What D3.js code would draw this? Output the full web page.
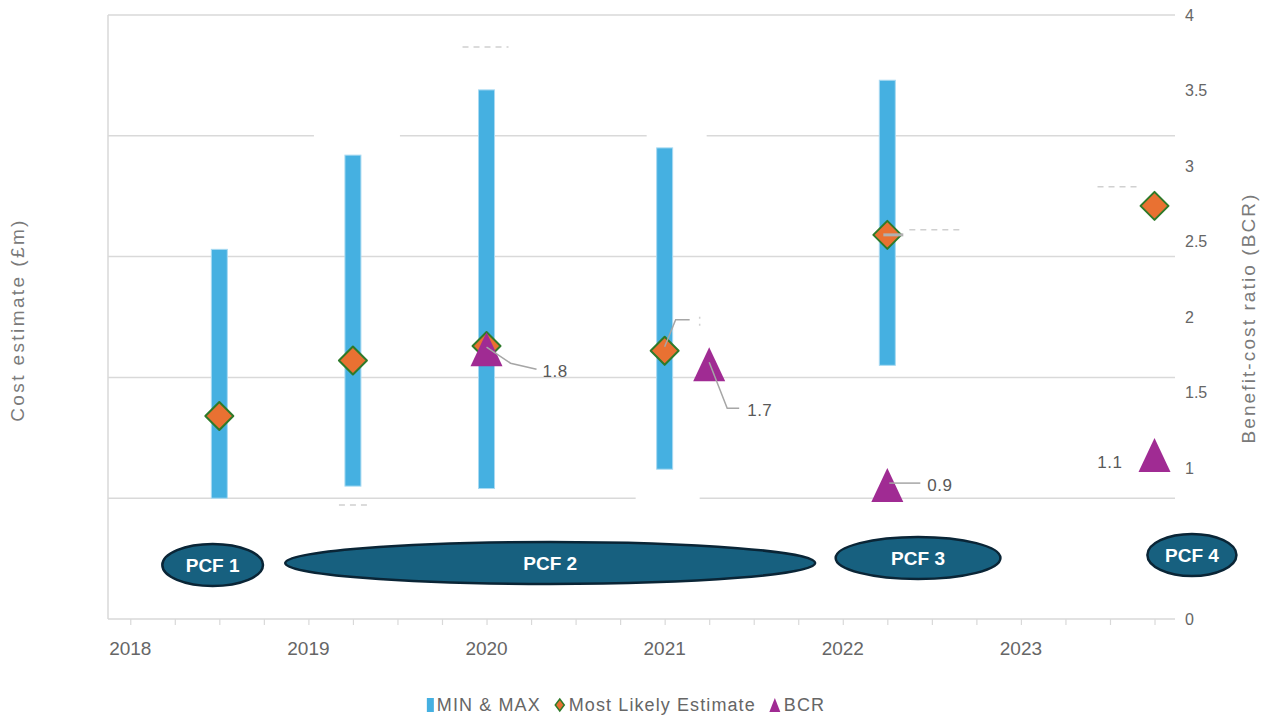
<!DOCTYPE html>
<html>
<head>
<meta charset="utf-8">
<script src="https://cdn.jsdelivr.net/npm/d3@7"></script>
<style>
  html, body { margin: 0; padding: 0; background: #fff; }
  svg { display: block; }
  .tick-label { font-family: "Liberation Sans", "DejaVu Sans", sans-serif; fill: #666; }
  .narrow { font-family: "Liberation Sans Narrow", "Liberation Sans", sans-serif; }
</style>
</head>
<body>
<svg id="chart" width="1265" height="719"></svg>
<script>
// ---- Data ----------------------------------------------------------------
// Cost estimate dates (decimal years) with min / max range (£m)
const estimateDates = [2018.5, 2019.25, 2020.0, 2021.0, 2022.25];
const costMin = [50, 55, 54, 62, 105];
const costMax = [153, 192, 219, 195, 223];

// Most likely cost estimate (£m)
const likelyDates = [2018.5, 2019.25, 2020.0, 2021.0, 2022.25, 2023.75];
const likelyValues = [84, 107, 113, 111, 159, 171];

// Benefit-cost ratio
const bcrDates = [2020.0, 2021.25, 2022.25, 2023.75];
const bcrValues = [1.8, 1.7, 0.9, 1.1];

// Project control framework stages (start / end, decimal years)
const pcfNames = ["PCF 1", "PCF 2", "PCF 3", "PCF 4"];
const pcfStart = [2018.18, 2018.87, 2021.96, 2023.71];
const pcfEnd = [2018.745, 2021.845, 2022.885, 2024.21];

// Axis ticks
const yearTicks = [2018, 2019, 2020, 2021, 2022, 2023];
const costTicks = [0, 50, 100, 150, 200, 250];
// 0.5 sits behind the PCF 4 oval, so it is not labelled
const bcrTicks = [0, 1, 1.5, 2, 2.5, 3, 3.5, 4];

// ---- Layout ----------------------------------------------------------------
const plot = { left: 108, right: 1175, top: 15, bottom: 619 };
const svg = d3.select("#chart");

const x = d3.scaleLinear().domain([2017.875, 2023.865]).range([plot.left, plot.right]);
const yCost = d3.scaleLinear().domain([0, 250]).range([plot.bottom, plot.top]);
const yBcr = d3.scaleLinear().domain([0, 4]).range([plot.bottom, plot.top]);

const colors = {
  grid: "#d9d9d9",
  bar: "#45B0E1",
  barEdge: "#A9DAF2",
  likely: "#E97132",
  likelyEdge: "#2E7A2A",
  bcr: "#A02B93",
  pcf: "#17607F",
  pcfEdge: "#0A2536",
  text: "#666666"
};

// ---- Gridlines (cost axis) --------------------------------------------------
svg.append("g")
  .selectAll("line")
  .data(costTicks.filter(d => d > 0))
  .join("line")
  .attr("x1", plot.left).attr("x2", plot.right)
  .attr("y1", d => yCost(d)).attr("y2", d => yCost(d))
  .attr("stroke", colors.grid).attr("stroke-width", 1.5);

// Left axis line
svg.append("line")
  .attr("x1", plot.left).attr("x2", plot.left)
  .attr("y1", plot.top).attr("y2", plot.bottom)
  .attr("stroke", colors.grid).attr("stroke-width", 1.5);

// ---- X axis ---------------------------------------------------------------
const quarterTicks = d3.range(2018, 2023.76, 0.25);
const xAxis = d3.axisBottom(x)
  .tickValues(quarterTicks)
  .tickSize(6)
  .tickFormat("");
const gx = svg.append("g").attr("transform", `translate(0,${plot.bottom})`).call(xAxis);
gx.select(".domain").attr("stroke", colors.grid).attr("stroke-width", 1.5)
  .attr("d", `M${plot.left},0H${plot.right}`);
gx.selectAll(".tick line").attr("stroke", colors.grid).attr("stroke-width", 1.2);

svg.append("g")
  .selectAll("text")
  .data(yearTicks)
  .join("text")
  .attr("class", "narrow")
  .attr("x", d => x(d))
  .attr("y", 655)
  .attr("text-anchor", "middle")
  .attr("font-size", 19)
  .attr("fill", colors.text)
  .text(d => d);

// ---- Right axis (BCR) --------------------------------------------------------
const yRight = d3.axisRight(yBcr).tickValues(bcrTicks).tickSize(0).tickPadding(0)
  .tickFormat(d => d3.format("")(d));
const gr = svg.append("g").attr("transform", `translate(1185,0)`).call(yRight);
gr.select(".domain").remove();
gr.selectAll("text")
  .attr("class", "tick-label")
  .attr("font-size", 16)
  .attr("fill", colors.text);

// Axis titles
svg.append("text")
  .attr("transform", `translate(24,320) rotate(-90)`)
  .attr("text-anchor", "middle")
  .attr("font-family", "Liberation Sans, sans-serif")
  .attr("font-size", 19)
  .attr("letter-spacing", 2.4)
  .attr("fill", "#7a7a7a")
  .text("Cost estimate (£m)");

svg.append("text")
  .attr("transform", `translate(1255,318) rotate(-90)`)
  .attr("text-anchor", "middle")
  .attr("font-family", "Liberation Sans, sans-serif")
  .attr("font-size", 19)
  .attr("letter-spacing", 2.1)
  .attr("fill", "#7a7a7a")
  .text("Benefit-cost ratio (BCR)");

// ---- Masked cost value labels (background boxes and blanked text) -----------
// Each entry: which point it belongs to and where its label box sits.
const maskedLabels = [
  { at: () => [x(estimateDates[1]), yCost(costMax[1])], dx: 4, dy: -21, w: 86, dash: false },
  { at: () => [x(estimateDates[3]), yCost(costMax[3])], dx: 12, dy: -14, w: 60, dash: false },
  { at: () => [x(estimateDates[3]), yCost(costMin[3])], dx: 3, dy: 28, w: 64, dash: false },
  { at: () => [x(estimateDates[2]), yCost(costMax[2])], dx: -2, dy: -43, w: 48, dash: true },
  { at: () => [x(estimateDates[1]), yCost(costMin[1])], dx: 0, dy: 19, w: 32, dash: true },
  { at: () => [x(likelyDates[4]), yCost(likelyValues[4])], dx: 46, dy: -5, w: 52, dash: true },
  { at: () => [x(likelyDates[5]), yCost(likelyValues[5])], dx: -38, dy: -19, w: 42, dash: true }
];
const maskG = svg.append("g");
maskedLabels.forEach(m => {
  const [px, py] = m.at();
  const cx = px + m.dx, cy = py + m.dy;
  maskG.append("rect")
    .attr("x", cx - m.w / 2).attr("y", cy - 6)
    .attr("width", m.w).attr("height", 12)
    .attr("fill", "#fff");
  if (m.dash) {
    maskG.append("line")
      .attr("x1", cx - m.w / 2 + 2).attr("x2", cx + m.w / 2)
      .attr("y1", cy).attr("y2", cy)
      .attr("stroke", "#d0d0d0").attr("stroke-width", 1.5)
      .attr("stroke-dasharray", "6,5");
  }
});

// ---- Min / max range bars ---------------------------------------------------
const barW = 16;
svg.append("g")
  .selectAll("rect")
  .data(estimateDates.map((d, i) => ({ date: d, lo: costMin[i], hi: costMax[i] })))
  .join("rect")
  .attr("x", d => x(d.date) - barW / 2)
  .attr("y", d => yCost(d.hi))
  .attr("width", barW)
  .attr("height", d => yCost(d.lo) - yCost(d.hi))
  .attr("fill", colors.bar)
  .attr("stroke", colors.barEdge)
  .attr("stroke-width", 1);

// ---- Leader lines of masked labels -----------------------------------------
const leaderG = svg.append("g").attr("fill", "none").attr("stroke", "#a6a6a6").attr("stroke-width", 1.5);
{
  const px = x(likelyDates[3]), py = yCost(likelyValues[3]);
  leaderG.append("path").attr("d", `M${px},${py - 4}L${px + 11},${py - 31}H${px + 25}`);
  leaderG.append("line").attr("x1", px + 35).attr("x2", px + 35)
    .attr("y1", py - 34).attr("y2", py - 24)
    .attr("stroke", "#cfcfcf").attr("stroke-dasharray", "2,5");
}

// ---- Most likely estimate diamonds -----------------------------------------
const diamond = s => `M0,${-s}L${s},0L0,${s}L${-s},0Z`;
svg.append("g")
  .selectAll("path")
  .data(likelyDates.map((d, i) => ({ date: d, v: likelyValues[i] })))
  .join("path")
  .attr("transform", d => `translate(${x(d.date)},${yCost(d.v)})`)
  .attr("d", diamond(14))
  .attr("fill", colors.likely)
  .attr("stroke", colors.likelyEdge)
  .attr("stroke-width", 2)
  .attr("stroke-linejoin", "round");

// Leader stub drawn over the 2022 diamond
{
  const px = x(likelyDates[4]), py = yCost(likelyValues[4]);
  leaderG.raise();
  svg.append("line").attr("x1", px - 4).attr("x2", px + 16)
    .attr("y1", py).attr("y2", py)
    .attr("stroke", "#b0b0b0").attr("stroke-width", 3);
}

// ---- BCR triangles and labels ------------------------------------------------
const triangle = (w, h) => `M0,${-h / 2}L${w / 2},${h / 2}L${-w / 2},${h / 2}Z`;
const bcrData = bcrDates.map((d, i) => ({ date: d, v: bcrValues[i] }));
svg.append("g")
  .selectAll("path")
  .data(bcrData)
  .join("path")
  .attr("transform", d => `translate(${x(d.date)},${yBcr(d.v) + 2})`)
  .attr("d", triangle(32, 34))
  .attr("fill", colors.bcr);

// Label placement relative to each BCR marker: leader path points and text anchor
const bcrLabelLayout = [
  { leader: [[0, 0], [24, 16], [50, 22]], text: [56, 24], anchor: "start" },
  { leader: [[0, 0], [18, 46], [30, 46]], text: [38, 48], anchor: "start" },
  { leader: [[2, 0], [33, 0]], text: [40, 2], anchor: "start" },
  { leader: null, text: [-32, 9], anchor: "end" }
];
const labG = svg.append("g");
bcrData.forEach((d, i) => {
  const px = x(d.date), py = yBcr(d.v);
  const L = bcrLabelLayout[i];
  if (L.leader) {
    labG.append("path")
      .attr("d", d3.line()(L.leader.map(([a, b]) => [px + a, py + b])))
      .attr("fill", "none").attr("stroke", "#a6a6a6").attr("stroke-width", 1.5);
  }
  labG.append("text")
    .attr("x", px + L.text[0]).attr("y", py + L.text[1])
    .attr("dy", "0.35em")
    .attr("text-anchor", L.anchor)
    .attr("font-family", "Liberation Sans, sans-serif")
    .attr("font-size", 17)
    .attr("letter-spacing", 0.5)
    .attr("fill", "#595959")
    .text(d3.format(".1f")(d.v));
});

// ---- PCF stage ovals ---------------------------------------------------------
const pcfY = [565, 563, 558, 555];
const pcfG = svg.append("g");
pcfNames.forEach((name, i) => {
  const x0 = x(pcfStart[i]), x1 = x(pcfEnd[i]);
  const cx = (x0 + x1) / 2;
  pcfG.append("ellipse")
    .attr("cx", cx).attr("cy", pcfY[i])
    .attr("rx", (x1 - x0) / 2).attr("ry", 21)
    .attr("fill", colors.pcf)
    .attr("stroke", colors.pcfEdge)
    .attr("stroke-width", 2.5);
  pcfG.append("text")
    .attr("class", "narrow")
    .attr("x", cx).attr("y", pcfY[i])
    .attr("dy", "0.36em")
    .attr("text-anchor", "middle")
    .attr("font-size", 19)
    .attr("font-weight", "bold")
    .attr("fill", "#fff")
    .text(name);
});

// ---- Legend --------------------------------------------------------------------
const legendItems = [
  { label: "MIN & MAX", sym: "bar" },
  { label: "Most Likely Estimate", sym: "diamond" },
  { label: "BCR", sym: "triangle" }
];
const legend = svg.append("g");
let cursor = 0;
const legendGap = 14;
legendItems.forEach(item => {
  const g = legend.append("g");
  if (item.sym === "bar") {
    g.append("rect").attr("x", 0).attr("y", -7).attr("width", 7).attr("height", 14).attr("fill", colors.bar);
  } else if (item.sym === "diamond") {
    g.append("path").attr("transform", "translate(5,0)")
      .attr("d", "M0,-6L4.5,0L0,6L-4.5,0Z")
      .attr("fill", colors.likely).attr("stroke", colors.likelyEdge).attr("stroke-width", 1.5);
  } else {
    g.append("path").attr("transform", "translate(5,0)")
      .attr("d", triangle(11, 14)).attr("fill", colors.bcr);
  }
  const t = g.append("text")
    .attr("class", "narrow")
    .attr("x", item.sym === "bar" ? 10 : 14).attr("dy", "0.35em")
    .attr("font-size", 18)
    .attr("letter-spacing", 1.1)
    .attr("fill", colors.text)
    .text(item.label);
  const w = (item.sym === "bar" ? 10 : 14) + t.node().getComputedTextLength();
  g.attr("transform", `translate(${cursor},0)`);
  cursor += w + legendGap;
});
const totalW = cursor - legendGap;
legend.attr("transform", `translate(${626 - totalW / 2},705)`);
</script>
</body>
</html>
